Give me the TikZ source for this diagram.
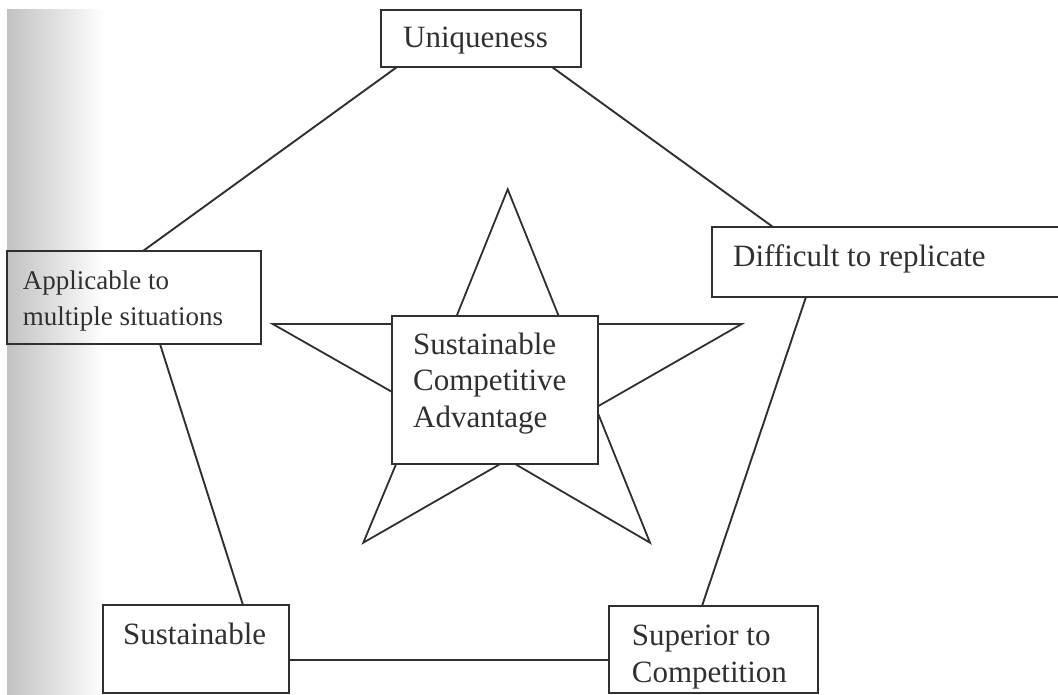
\documentclass[tikz,border=0pt]{standalone}
\usepackage{fontspec}
\setmainfont{Liberation Serif}
\usetikzlibrary{calc}
\definecolor{ink}{HTML}{303030}
\begin{document}
\begin{tikzpicture}[x=1pt,y=-1pt,
  box/.style={draw=ink,line width=2pt,rectangle,inner sep=0pt,outer sep=0pt,anchor=north west},
  lbl/.style={inner sep=0pt,anchor=base west,text=ink,font=\fontsize{31}{36.5}\selectfont},
  link/.style={draw=ink,line width=1.9pt},
  starshape/.style={draw=ink,line width=1.8pt,fill=white,line join=miter}]
\useasboundingbox (0,0) rectangle (1058,695);
\clip (0,0) rectangle (1058,695);
% scanned page shadow at the left edge
\shade[left color=black!24,right color=white] (7,10) rectangle (105,700);
% boxes
\node[box,minimum width=200pt,minimum height=57pt] (uniq) at (381,10) {};
\node[box,minimum width=380pt,minimum height=70pt] (diff) at (712,227) {};
\node[box,minimum width=254pt,minimum height=93pt] (appl) at (7,251) {};
\node[box,minimum width=186pt,minimum height=88pt] (sust) at (103,605) {};
\node[box,minimum width=209pt,minimum height=87pt] (sup) at (609,606) {};
% connectors
\draw[link] ($(uniq.south west)+(16,0)$) -- ($(appl.north west)+(136,0)$);
\draw[link] ($(uniq.south west)+(171,0)$) -- ($(diff.north west)+(61,0)$);
\draw[link] ($(diff.south west)+(94,0)$) -- ($(sup.north west)+(93,0)$);
\draw[link] ($(sup.north west)+(0,54)$) -- ($(sust.north east)+(0,55)$);
\draw[link] ($(sust.north west)+(140,0)$) -- ($(appl.south west)+(153,0)$);
% star
\draw[starshape] (507.7,189.3) -- (561.9,324) -- (741.7,324) -- (595.7,407.6)
  -- (650,542.7) -- (507.7,459.7) -- (363.3,542.7) -- (419.6,407.6)
  -- (272.7,324) -- (453.4,324) -- cycle;
\node[box,fill=white,minimum width=206pt,minimum height=148pt] (sca) at (392,316) {};
% texts
\node[lbl] (tuniq) at (403,48) {Uniqueness};
\node[lbl] (tdiff) at (733,267) {Difficult to replicate};
\node[lbl,font=\fontsize{27}{36}\selectfont] (tappl) at (22.7,289.3) {\vtop{\hbox{Applicable to}\hbox{multiple situations}}};
\node[lbl] (tsca) at (413,354) {\vtop{\hbox{Sustainable}\hbox{Competitive}\hbox{Advantage}}};
\node[lbl] (tsust) at (123,644) {Sustainable};
\node[lbl] (tsup) at (631.7,645.7) {\vtop{\hbox{Superior to}\hbox{Competition}}};
\end{tikzpicture}
\end{document}
